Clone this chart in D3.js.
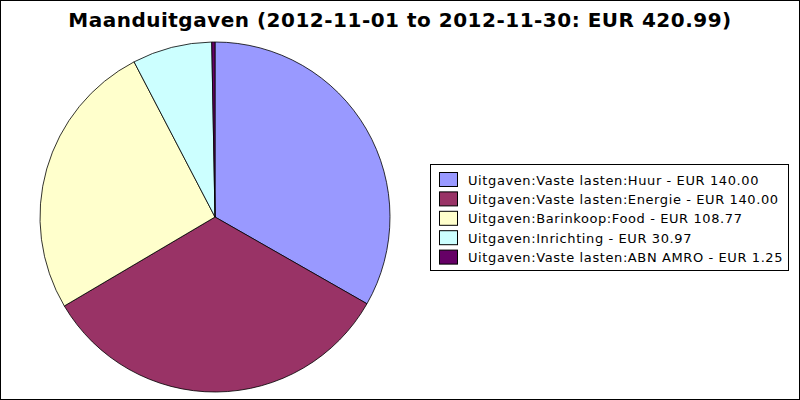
<!DOCTYPE html>
<html><head><meta charset="utf-8">
<script src="https://cdn.jsdelivr.net/npm/d3@7"></script>
<style>body{margin:0;background:#fff}svg{display:block}</style>
</head><body>
<svg id="c" width="800" height="400"></svg>
<script>
const title = "Maanduitgaven (2012-11-01 to 2012-11-30: EUR 420.99)";
const categories = ["Uitgaven:Vaste lasten:Huur","Uitgaven:Vaste lasten:Energie","Uitgaven:Barinkoop:Food","Uitgaven:Inrichting","Uitgaven:Vaste lasten:ABN AMRO"];
const values = [140.00, 140.00, 108.77, 30.97, 1.25];
const colors = ["#9999ff","#993366","#ffffcc","#ccffff","#660066"];

const svg = d3.select("#c");
svg.append("rect").attr("x",0.5).attr("y",0.5).attr("width",799).attr("height",399)
  .attr("fill","#fff").attr("stroke","#000");
svg.append("text").attr("x",400).attr("y",27).attr("text-anchor","middle")
  .attr("font-family","DejaVu Sans").attr("font-weight","bold").attr("font-size",20)
  .attr("letter-spacing",0.5)
  .text(title);

const data = categories.map((c,i)=>({c, v:values[i], col:colors[i]}));
const pie = d3.pie().sort(null).value(d=>d.v);
const arc = d3.arc().innerRadius(0).outerRadius(175);
const g = svg.append("g").attr("transform","translate(215,217)");
g.selectAll("path").data(pie(data)).join("path")
  .attr("d",arc).attr("fill",d=>d.data.col).attr("stroke","#000").attr("stroke-width",0.8);

const lg = svg.append("g");
svg.append("clipPath").attr("id","lc").append("rect").attr("x",430).attr("y",164).attr("width",352).attr("height",106);
lg.append("rect").attr("x",430.5).attr("y",164.5).attr("width",358).attr("height",106)
  .attr("fill","#fff").attr("stroke","#000");
const rows = lg.append("g").attr("clip-path","url(#lc)");
const y = d3.scaleBand().domain(categories).range([170,267]);
const items = rows.selectAll("g").data(data).join("g")
  .attr("transform",d=>`translate(0,${y(d.c)})`);
items.append("rect").attr("x",439.5).attr("y",2.5).attr("width",18).attr("height",14)
  .attr("fill",d=>d.col).attr("stroke","#000");
items.append("text").attr("x",468).attr("y",14.5)
  .attr("font-family","DejaVu Sans").attr("font-size",13).attr("letter-spacing",0.6)
  .text(d=>`${d.c} - EUR ${d.v.toFixed(2)}`);
</script>
</body></html>
